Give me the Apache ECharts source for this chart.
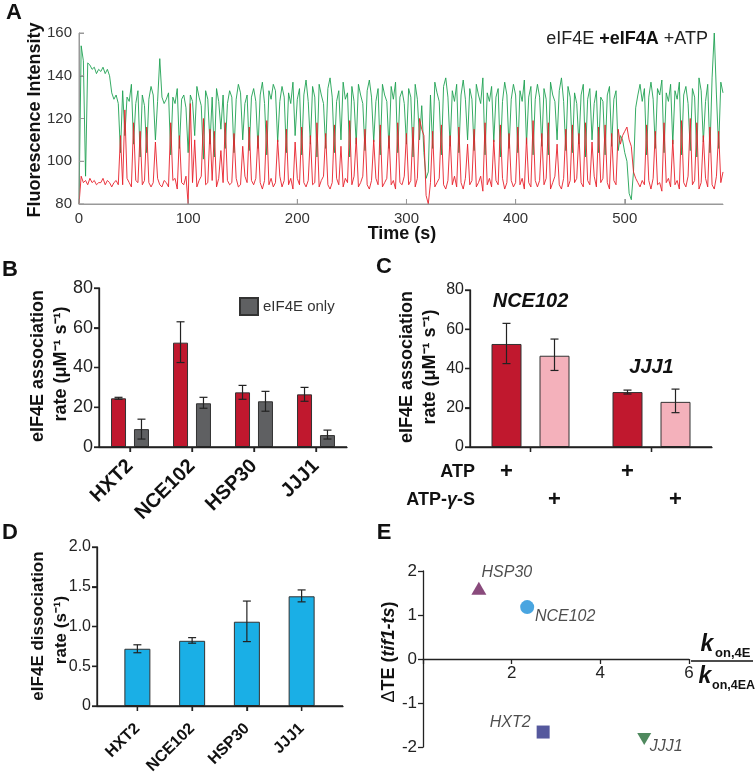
<!DOCTYPE html>
<html><head><meta charset="utf-8">
<script src="https://cdn.jsdelivr.net/npm/echarts@6/dist/echarts.min.js"></script>
<style>html,body{margin:0;padding:0;background:#fff}#wrap{position:relative;width:756px;height:777px}.p{position:absolute;left:0;top:0;width:756px;height:777px}</style>
</head><body><div id="wrap"><div id="pA" class="p"></div><div id="pB" class="p"></div><div id="pC" class="p"></div><div id="pD" class="p"></div><div id="pE" class="p"></div></div><script>
const FONT = '"Liberation Sans", Arial, Helvetica, sans-serif';

// ---------- Panel A: single-molecule trace ----------
const traceStep = 2; // seconds between samples
const traceGreen = [
 80,154,147,93,146,145,143,144,141,143,
 142,144,141,143,140,132,129,131,127,104,
 133,112,130,128,136,108,127,133,102,131,
 126,104,129,135,131,110,128,148,130,127,
 129,132,103,130,127,134,106,129,131,125,
 104,131,128,112,135,130,126,101,133,129,
 108,130,102,134,128,115,131,106,127,133,
 130,104,129,136,132,110,127,131,105,130,
 134,128,106,131,137,127,103,133,129,136,
 133,109,128,135,130,104,132,127,137,112,
 129,134,103,131,138,128,108,135,130,102,
 136,131,127,106,134,139,130,104,128,133,
 110,137,129,132,102,135,128,108,136,131,
 127,105,133,138,130,109,128,134,103,136,
 131,128,106,135,129,137,104,130,133,127,
 108,134,130,102,136,129,110,126,104,92,
 95,131,106,137,132,128,103,135,139,130,
 107,133,128,136,104,131,138,129,110,134,
 129,105,136,131,127,139,103,132,128,135,
 109,130,134,102,128,137,131,106,129,136,
 131,104,133,128,138,108,130,135,103,129,
 136,130,107,134,129,103,137,131,128,110,
 133,139,128,105,135,130,104,132,127,108,
 131,136,102,129,134,110,127,133,104,130,
 128,103,131,135,107,129,133,105,112,110,
 104,100,85,82,95,125,131,136,128,134,
 103,130,137,129,106,134,131,138,104,132,
 128,136,108,133,129,137,103,131,135,127,
 105,134,130,102,139,133,109,128,136,104,
 139,160,131,106,137,132
];
const traceRed = [
 80,93,90,91,89,92,90,91,89,90,
 90,92,89,91,90,88,90,91,89,112,
 89,124,92,90,88,118,91,90,114,89,
 91,116,90,88,90,109,92,89,88,91,
 90,88,118,91,92,87,112,90,89,93,
 80,127,90,110,88,91,93,120,89,90,
 115,91,114,88,92,105,90,118,91,89,
 90,113,92,88,89,107,93,90,116,91,
 89,92,112,90,87,91,119,89,92,88,
 90,110,93,88,91,115,89,92,87,109,
 92,89,116,90,88,91,112,89,90,118,
 88,91,93,113,89,87,90,117,92,89,
 107,88,92,90,119,89,93,111,88,90,
 93,115,89,87,91,110,92,89,117,88,
 90,92,112,89,91,87,118,90,89,93,
 113,89,91,116,88,92,120,115,112,84,
 80,90,114,88,90,92,117,89,87,91,
 112,89,93,88,116,90,87,92,108,89,
 91,115,88,90,93,86,118,89,92,88,
 110,91,89,117,92,87,90,113,91,88,
 90,116,89,92,87,111,90,88,119,91,
 88,91,113,89,92,118,87,90,93,108,
 89,87,92,115,88,91,117,90,92,113,
 90,88,118,91,89,109,93,88,116,90,
 92,117,90,87,113,91,89,115,108,112,
 114,116,110,107,95,92,90,88,91,89,
 117,91,87,92,114,89,90,86,118,90,
 92,88,110,89,91,87,119,90,88,93,
 120,89,91,118,87,90,112,92,88,116,
 89,87,93,114,90,95
];
const traceTimeMax = 590;
const traceTimeTicks = [0,100,200,300,400,500];
const traceIntensityTicks = [80,100,120,140,160];

// ---------- Panel B ----------
const genesB = ['HXT2','NCE102','HSP30','JJJ1'];
const bWith4A   = [24.5, 52.5, 27.5, 26.5];
const bWith4ALo = [24.0, 42.5, 24.0, 23.0];
const bWith4AHi = [25.0, 63.0, 31.0, 30.0];
const b4EOnly   = [9.0, 22.0, 23.0, 6.0];
const b4EOnlyLo = [4.0, 19.5, 18.0, 4.0];
const b4EOnlyHi = [14.0, 25.0, 28.0, 8.5];
const rateTicks = [0,20,40,60,80];

// ---------- Panel C ----------
const genesC = ['NCE102','JJJ1'];
const cATP     = [52.5, 28.0];
const cATPLo   = [42.5, 27.0];
const cATPHi   = [63.0, 29.0];
const cATPgS   = [46.5, 23.0];
const cATPgSLo = [39.0, 17.5];
const cATPgSHi = [55.0, 29.5];

// ---------- Panel D ----------
const genesD = ['HXT2','NCE102','HSP30','JJJ1'];
const dKoff   = [0.72, 0.82, 1.06, 1.38];
const dKoffLo = [0.67, 0.79, 0.81, 1.31];
const dKoffHi = [0.77, 0.86, 1.32, 1.46];
const koffTicks = [0,0.5,1,1.5,2];

// ---------- Panel E ----------
const genesE = ['HSP30','NCE102','HXT2','JJJ1'];
const eKonRatio = [1.26, 2.35, 2.71, 4.99];
const eDeltaTE  = [1.61, 1.18, -1.66, -1.82];

// ---------- styles ----------
const eStyles = [
 {symbol:'triangle', symbolSize:[15,13], symbolRotate:0, color:'#6b1d5b', offset:[28,-16]},
 {symbol:'circle', symbolSize:14, symbolRotate:0, color:'#1b8fd8', offset:[38,9]},
 {symbol:'rect', symbolSize:13, symbolRotate:0, color:'#2b2e85', offset:[-33,-9]},
 {symbol:'triangle', symbolSize:[14,12], symbolRotate:180, color:'#236b36', offset:[22,7]}
];
const RED = '#c0182e', GRAY = '#5f6062', PINK = '#f4b1bb', BLUE = '#1aafe6';
const TXT = '#222';

function errSeries(axisIdx, lo, hi, shift){
  return {type:'custom', xAxisIndex:axisIdx, yAxisIndex:axisIdx, silent:true, z:5,
    data: lo.map((l,i)=>[i, l, hi[i]]),
    renderItem(params, api){
      const a = api.coord([api.value(0), api.value(1)]);
      const b = api.coord([api.value(0), api.value(2)]);
      const x = a[0] + shift, c = 4;
      const st = {stroke:'#222', lineWidth:1.2};
      return {type:'group', children:[
        {type:'line', shape:{x1:x,y1:a[1],x2:x,y2:b[1]}, style:st},
        {type:'line', shape:{x1:x-c,y1:a[1],x2:x+c,y2:a[1]}, style:st},
        {type:'line', shape:{x1:x-c,y1:b[1],x2:x+c,y2:b[1]}, style:st}
      ]};
    }};
}
// axis lines + ticks drawn through the axis scales (backup for the axis line rendering)
function axisSeries(axisIdx, cfg){
  return {type:'custom', xAxisIndex:axisIdx, yAxisIndex:axisIdx, silent:true, clip:false, z:6,
    data:[[cfg.xRef, cfg.yRef]],
    renderItem(params, api){
      const cs = params.coordSys;
      const L0 = cs.x, R0 = cs.x + cs.width, T0 = cs.y, B0 = cs.y + cs.height;
      const st = {stroke:cfg.color, lineWidth:cfg.width};
      const tl = 5, inside = !!cfg.inside;
      const ch = [];
      if (cfg.yLine) {
        ch.push({type:'line', shape:{x1:L0,y1:T0,x2:L0,y2:B0}, style:st});
        (cfg.yTicks||[]).forEach(v=>{
          const y = api.coord([cfg.xRef, v])[1];
          ch.push({type:'line', shape:{x1:L0, y1:y, x2:inside ? L0+tl : L0-tl, y2:y}, style:st});
        });
      }
      if (cfg.xLine) ch.push({type:'line', shape:{x1:L0,y1:B0,x2:R0,y2:B0}, style:st});
      (cfg.xTicks||[]).forEach(v=>{
        const x = api.coord([v, cfg.yRef])[0];
        ch.push({type:'line', shape:{x1:x, y1:B0, x2:x, y2:inside ? B0-tl : B0+tl}, style:st});
      });
      return {type:'group', children:ch};
    }};
}
function dl(){ return {color:'#222', width:1.3}; }
function valY(grid, min, max, interval, fs, fmt){
  const ax = {type:'value', gridIndex:grid, min, max, interval,
    splitLine:{show:false}, axisLine:{show:true, onZero:false, lineStyle:dl()},
    axisTick:{show:true, length:5, lineStyle:dl()},
    axisLabel:{fontSize:fs, color:TXT, margin:6, fontFamily:FONT}};
  if (fmt) ax.axisLabel.formatter = fmt;
  return ax;
}
function catX(grid, data, fs, margin, showLine, showTick, showLabel){
  return {type:'category', gridIndex:grid, data,
    axisLine:{show:showLine, lineStyle:dl()},
    axisTick:{show:showTick, alignWithLabel:true, length:5, lineStyle:dl()},
    axisLabel:{show:showLabel, rotate:45, fontSize:fs, fontWeight:'bold', color:'#111', margin, fontFamily:FONT}};
}
function vText(x, y, text, font, rich){
  const st = {text, font, fill:'#111', textAlign:'center', textVerticalAlign:'middle'};
  if (rich) st.rich = rich;
  return {type:'text', x, y, rotation:Math.PI/2, style:st};
}
function hText(x, y, text, font, align, rich){
  const st = {text, font, fill:'#111', textAlign:align||'center', textVerticalAlign:'middle'};
  if (rich) st.rich = rich;
  return {type:'text', x, y, style:st};
}
const base = {animation:false, backgroundColor:'transparent', textStyle:{fontFamily:FONT}};
const bShift = (15 + 15*0.53)/2;
const cShift = (30 + 30*0.6)/2;
const idx = arr => arr.map((g,i)=>i);

const optA = Object.assign({}, base, {
  grid:{left:79, top:33, width:644, height:171},
  xAxis:{type:'value', min:0, max:traceTimeMax, interval:100, splitLine:{show:false},
     axisLine:{show:true, onZero:false, lineStyle:{color:'#999', width:1}},
     axisTick:{show:true, inside:true, length:5, lineStyle:{color:'#999'}},
     axisLabel:{fontSize:15, color:'#333', margin:7, showMaxLabel:false, fontFamily:FONT}},
  yAxis:{type:'value', min:80, max:160, interval:20, splitLine:{show:false},
     axisLine:{show:true, onZero:false, lineStyle:{color:'#999', width:1}},
     axisTick:{show:true, inside:true, length:5, lineStyle:{color:'#999'}},
     axisLabel:{fontSize:15, color:'#333', margin:7, fontFamily:FONT}},
  series:[
    {type:'line', showSymbol:false, symbol:'none', lineStyle:{color:'#1fa152', width:0.9},
     data:traceGreen.map((v,i)=>[i*traceStep, v])},
    {type:'line', showSymbol:false, symbol:'none', lineStyle:{color:'#e8202a', width:0.9},
     data:traceRed.map((v,i)=>[i*traceStep, v])},
    axisSeries(0, {xRef:0, yRef:80, yLine:true, xLine:true, yTicks:traceIntensityTicks,
      xTicks:traceTimeTicks, inside:true, color:'#999', width:1})
  ],
  graphic:[
    hText(14,13,'A','bold 22px '+FONT),
    vText(35,120,'Fluorescence Intensity','bold 18px '+FONT),
    hText(402,234,'Time (s)','bold 18px '+FONT),
    hText(708,39,'{n|eIF4E }{b|+eIF4A}{n| +ATP}','18px '+FONT,'right',
      {n:{font:'18px '+FONT, fill:'#222'}, b:{font:'bold 18px '+FONT, fill:'#111'}})
  ]
});

const optB = Object.assign({}, base, {
  grid:{left:99, top:288, width:248, height:159},
  legend:{data:['eIF4E only'], left:234, top:292, itemWidth:18, itemHeight:17, icon:'rect',
    textStyle:{fontSize:15, color:'#333', fontFamily:FONT}, selectedMode:false},
  xAxis:catX(0, genesB, 20, 16, true, true, true),
  yAxis:valY(0, 0, 80, 20, 18),
  series:[
    {type:'bar', name:'eIF4E + eIF4A', barWidth:15, barGap:'53%',
     itemStyle:{color:RED, borderColor:'#333', borderWidth:1}, data:bWith4A},
    {type:'bar', name:'eIF4E only', barWidth:15, barGap:'53%',
     itemStyle:{color:GRAY, borderColor:'#333', borderWidth:1}, data:b4EOnly},
    errSeries(0, bWith4ALo, bWith4AHi, -bShift),
    errSeries(0, b4EOnlyLo, b4EOnlyHi, bShift),
    axisSeries(0, {xRef:0, yRef:0, yLine:true, xLine:true, yTicks:rateTicks, xTicks:idx(genesB), color:'#222', width:1.3})
  ],
  graphic:[
    hText(10,270,'B','bold 22px '+FONT),
    vText(38,366,'eIF4E association','bold 18px '+FONT),
    vText(61,364,'rate (μM⁻¹ s⁻¹)','bold 18px '+FONT)
  ]
});

const optC = Object.assign({}, base, {
  grid:{left:470, top:290, width:242, height:157},
  xAxis:catX(0, genesC, 16, 8, true, true, false),
  yAxis:valY(0, 0, 80, 20, 16),
  series:[
    {type:'bar', name:'ATP', barWidth:30, barGap:'60%',
     itemStyle:{color:RED, borderColor:'#333', borderWidth:1}, data:cATP,
     label:{show:true, position:['50%','100%'], offset:[0,25], align:'center', verticalAlign:'middle',
       formatter:'+', fontSize:22, fontWeight:'bold', color:'#111'}},
    {type:'bar', name:'ATP-γ-S', barWidth:30, barGap:'60%',
     itemStyle:{color:PINK, borderColor:'#333', borderWidth:1}, data:cATPgS,
     label:{show:true, position:['50%','100%'], offset:[0,53], align:'center', verticalAlign:'middle',
       formatter:'+', fontSize:22, fontWeight:'bold', color:'#111'}},
    errSeries(0, cATPLo, cATPHi, -cShift),
    errSeries(0, cATPgSLo, cATPgSHi, cShift),
    {type:'custom', silent:true, z:5,
     data: genesC.map((g,i)=>[i, Math.max(cATPHi[i], cATPgSHi[i])]),
     renderItem(params, api){
       const p = api.coord([api.value(0), api.value(1)]);
       return {type:'text', x:p[0], y:p[1]-12, style:{text:genesC[params.dataIndex], textAlign:'center',
         textVerticalAlign:'bottom', font:'italic bold 20px '+FONT, fill:'#111'}};
     }},
    axisSeries(0, {xRef:0, yRef:0, yLine:true, xLine:true, yTicks:rateTicks, xTicks:idx(genesC), color:'#222', width:1.3})
  ],
  graphic:[
    hText(384,267,'C','bold 22px '+FONT),
    vText(407,367,'eIF4E association','bold 18px '+FONT),
    vText(430,367,'rate (μM⁻¹ s⁻¹)','bold 18px '+FONT),
    hText(475,472,'ATP','bold 18px '+FONT,'right'),
    hText(475,500,'{b|ATP-}{i|γ}{b|-S}','bold 18px '+FONT,'right',
      {b:{font:'bold 18px '+FONT, fill:'#111'}, i:{font:'italic bold 18px '+FONT, fill:'#111'}})
  ]
});

const optD = Object.assign({}, base, {
  grid:[{left:97, top:547, width:246, height:159},{left:110, top:547, width:219, height:159}],
  xAxis:[catX(0, genesD, 16, 8, true, false, false), catX(1, genesD, 16, 20, false, true, true)],
  yAxis:[valY(0, 0, 2, 0.5, 16, v=>v===0?'0':v.toFixed(1)),
         {type:'value', gridIndex:1, min:0, max:2, interval:0.5, show:false}],
  series:[
    {type:'bar', xAxisIndex:1, yAxisIndex:1, barWidth:26,
     itemStyle:{color:BLUE, borderColor:'#333', borderWidth:1}, data:dKoff},
    errSeries(1, dKoffLo, dKoffHi, 0),
    axisSeries(0, {xRef:0, yRef:0, yLine:true, xLine:true, yTicks:koffTicks, xTicks:[], color:'#222', width:1.3}),
    axisSeries(1, {xRef:0, yRef:0, yLine:false, xLine:false, xTicks:idx(genesD), color:'#222', width:1.3})
  ],
  graphic:[
    hText(10,533,'D','bold 22px '+FONT),
    vText(38,626,'eIF4E dissociation','bold 17px '+FONT),
    vText(61,630,'rate (s⁻¹)','bold 17px '+FONT)
  ]
});

const optE = Object.assign({}, base, {
  grid:[{left:423, top:571, width:266, height:176},{left:423, top:571, width:266, height:88}],
  xAxis:[{type:'value', gridIndex:0, min:0, max:6, show:false},
    {type:'value', gridIndex:1, min:0, max:6, interval:2, splitLine:{show:false},
     axisLine:{show:true, onZero:false, lineStyle:dl()},
     axisTick:{show:true, length:5, lineStyle:dl()},
     axisLabel:{fontSize:17, color:TXT, margin:6, fontFamily:FONT, formatter:v=>v===0?'':String(v)}}],
  yAxis:[valY(0, -2, 2, 1, 17), {type:'value', gridIndex:1, min:0, max:1, show:false}],
  series:[
    {type:'scatter', xAxisIndex:0, yAxisIndex:0,
     data: genesE.map((g,i)=>({name:g, value:[eKonRatio[i], eDeltaTE[i]],
       symbol:eStyles[i].symbol, symbolSize:eStyles[i].symbolSize, symbolRotate:eStyles[i].symbolRotate,
       itemStyle:{color:eStyles[i].color},
       label:{show:true, position:'inside', offset:eStyles[i].offset, formatter:'{b}',
         fontSize:16, fontStyle:'italic', color:TXT, fontFamily:FONT}}))}
  ],
  graphic:[
    hText(384,533,'E','bold 22px '+FONT),
    vText(389,652,'{a|Δ}{b|TE (}{c|tif1-ts}{b|)}','bold 18px '+FONT,
      {a:{font:'18px '+FONT, fill:'#111'}, b:{font:'bold 18px '+FONT, fill:'#111'}, c:{font:'italic bold 18px '+FONT, fill:'#111'}}),
    hText(707,645,'k','italic bold 23px '+FONT),
    hText(715,653,'on,4E','bold 13px '+FONT,'left'),
    {type:'line', shape:{x1:691,y1:661,x2:753,y2:661}, style:{stroke:'#111', lineWidth:1.3}},
    hText(705,677,'k','italic bold 23px '+FONT),
    hText(712,686,'on,4EA','bold 12.5px '+FONT,'left')
  ]
});

[['pA',optA],['pB',optB],['pC',optC],['pD',optD],['pE',optE]].forEach(([id,opt])=>{
  const ch = echarts.init(document.getElementById(id), null, {renderer:'canvas'});
  ch.setOption(opt);
});
</script></body></html>
